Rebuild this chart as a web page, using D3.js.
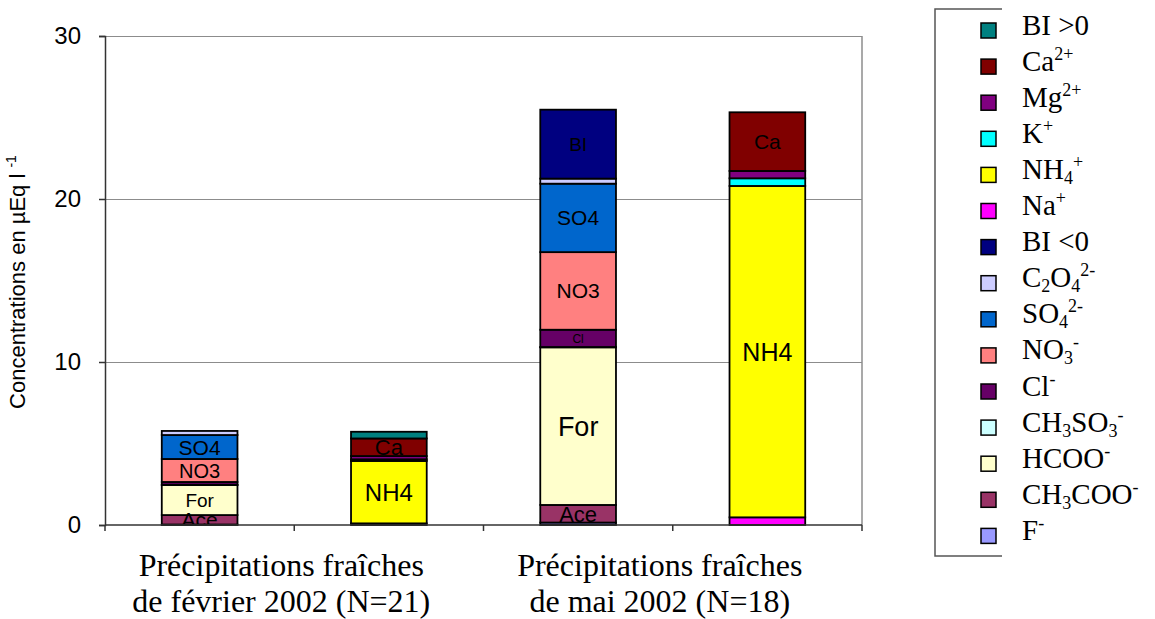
<!DOCTYPE html>
<html>
<head>
<meta charset="utf-8">
<script src="https://cdn.jsdelivr.net/npm/d3@7"></script>
<style>
  body { margin: 0; background: #fff; }
  svg { display: block; }
</style>
</head>
<body>
<svg id="chart" width="1155" height="619"></svg>
<script>
// bars: anions / cations for each campaign
const categories = ['fev-anions', 'fev-cations', 'mai-anions', 'mai-cations'];
const groupLabels = [
  ['Précipitations fraîches', 'de février 2002 (N=21)'],
  ['Précipitations fraîches', 'de mai 2002 (N=18)']
];
const yTicks = [0, 10, 20, 30];

// series values (µEq/l), one value per bar
const F      = [0.03, 0,    0.15, 0];
const CH3COO = [0.58, 0,    1.08, 0];
const HCOO   = [1.84, 0,    9.67, 0];
const CH3SO3 = [0.02, 0,    0.02, 0];
const Cl     = [0.17, 0,    1.06, 0];
const NO3    = [1.41, 0,    4.76, 0];
const SO4    = [1.47, 0,    4.20, 0];
const C2O4   = [0.25, 0,    0.31, 0];
const BIneg  = [0,    0,    4.23, 0];
const Na     = [0,    0.10, 0,    0.47];
const NH4    = [0,    3.83, 0,    20.33];
const K      = [0,    0.10, 0,    0.47];
const Mg     = [0,    0.20, 0,    0.45];
const Ca     = [0,    1.08, 0,    3.60];
const BIpos  = [0,    0.41, 0,    0];

// stacking order, bottom to top
const keys = ['F', 'CH3COO', 'HCOO', 'CH3SO3', 'Cl', 'NO3', 'SO4', 'C2O4', 'BIneg',
              'Na', 'NH4', 'K', 'Mg', 'Ca', 'BIpos'];
const seriesValues = { F, CH3COO, HCOO, CH3SO3, Cl, NO3, SO4, C2O4, BIneg, Na, NH4, K, Mg, Ca, BIpos };

const colors = {
  BIpos: '#008080', Ca: '#800000', Mg: '#800080', K: '#00FFFF', NH4: '#FFFF00',
  Na: '#FF00FF', BIneg: '#000080', C2O4: '#CCCCFF', SO4: '#0066CC', NO3: '#FF8080',
  Cl: '#660066', CH3SO3: '#CCFFFF', HCOO: '#FFFFCC', CH3COO: '#993366', F: '#9999FF'
};

// legend labels as [text, 'n' | 'sub' | 'sup'] parts
const legendLabels = {
  BIpos: [['BI >0', 'n']],
  Ca: [['Ca', 'n'], ['2+', 'sup']],
  Mg: [['Mg', 'n'], ['2+', 'sup']],
  K: [['K', 'n'], ['+', 'sup']],
  NH4: [['NH', 'n'], ['4', 'sub'], ['+', 'sup']],
  Na: [['Na', 'n'], ['+', 'sup']],
  BIneg: [['BI <0', 'n']],
  C2O4: [['C', 'n'], ['2', 'sub'], ['O', 'n'], ['4', 'sub'], ['2-', 'sup']],
  SO4: [['SO', 'n'], ['4', 'sub'], ['2-', 'sup']],
  NO3: [['NO', 'n'], ['3', 'sub'], ['-', 'sup']],
  Cl: [['Cl', 'n'], ['-', 'sup']],
  CH3SO3: [['CH', 'n'], ['3', 'sub'], ['SO', 'n'], ['3', 'sub'], ['-', 'sup']],
  HCOO: [['HCOO', 'n'], ['-', 'sup']],
  CH3COO: [['CH', 'n'], ['3', 'sub'], ['COO', 'n'], ['-', 'sup']],
  F: [['F', 'n'], ['-', 'sup']]
};

// data labels drawn inside segments
const segLabels = [
  { bar: 'fev-anions', key: 'SO4', text: 'SO4' },
  { bar: 'fev-anions', key: 'NO3', text: 'NO3' },
  { bar: 'fev-anions', key: 'HCOO', text: 'For' },
  { bar: 'fev-anions', key: 'CH3COO', text: 'Ace' },
  { bar: 'fev-cations', key: 'Ca', text: 'Ca' },
  { bar: 'fev-cations', key: 'NH4', text: 'NH4' },
  { bar: 'mai-anions', key: 'BIneg', text: 'BI' },
  { bar: 'mai-anions', key: 'SO4', text: 'SO4' },
  { bar: 'mai-anions', key: 'NO3', text: 'NO3' },
  { bar: 'mai-anions', key: 'Cl', text: 'Cl' },
  { bar: 'mai-anions', key: 'HCOO', text: 'For' },
  { bar: 'mai-anions', key: 'CH3COO', text: 'Ace' },
  { bar: 'mai-cations', key: 'Ca', text: 'Ca' },
  { bar: 'mai-cations', key: 'NH4', text: 'NH4' }
];
// font size per label (style only)
const labelSize = {
  'fev-anions/SO4': 21, 'fev-anions/NO3': 20, 'fev-anions/HCOO': 19, 'fev-anions/CH3COO': 21,
  'fev-cations/Ca': 22, 'fev-cations/NH4': 24,
  'mai-anions/BIneg': 19, 'mai-anions/SO4': 21, 'mai-anions/NO3': 21, 'mai-anions/Cl': 12,
  'mai-anions/HCOO': 27, 'mai-anions/CH3COO': 22,
  'mai-cations/Ca': 21, 'mai-cations/NH4': 25
};

const svg = d3.select('#chart');
const plot = { left: 105, right: 862, top: 36, bottom: 525 };

const x = d3.scaleBand()
  .domain(categories)
  .range([plot.left, plot.right])
  .paddingInner(0.6)
  .paddingOuter(0.3);

const y = d3.scaleLinear()
  .domain([0, 30])
  .range([plot.bottom, plot.top]);

// table for d3.stack
const table = categories.map((c, i) => {
  const row = { cat: c };
  keys.forEach(k => { row[k] = seriesValues[k][i]; });
  return row;
});
const stacked = d3.stack().keys(keys)(table);

// gridlines
svg.append('g')
  .attr('transform', `translate(${plot.left},0)`)
  .call(d3.axisLeft(y).tickValues(yTicks.filter(t => t > 0))
    .tickSize(-(plot.right - plot.left)).tickFormat(''))
  .call(g => g.select('.domain').remove())
  .call(g => g.selectAll('line').attr('stroke', '#8c8c8c').attr('stroke-width', 1));

// right border of plot area
svg.append('line')
  .attr('x1', plot.right).attr('x2', plot.right)
  .attr('y1', plot.top).attr('y2', plot.bottom)
  .attr('stroke', '#8c8c8c').attr('stroke-width', 1.5);

svg.append('clipPath').attr('id', 'plotClip')
  .append('rect')
  .attr('x', plot.left).attr('y', plot.top)
  .attr('width', plot.right - plot.left).attr('height', plot.bottom - plot.top);

// bars
const layers = svg.append('g').selectAll('g')
  .data(stacked)
  .join('g')
  .attr('fill', d => colors[d.key]);

layers.selectAll('rect')
  .data(d => d.filter(s => s[1] - s[0] > 0))
  .join('rect')
  .attr('x', d => x(d.data.cat))
  .attr('y', d => y(d[1]))
  .attr('width', x.bandwidth())
  .attr('height', d => y(d[0]) - y(d[1]))
  .attr('stroke', '#000')
  .attr('stroke-width', 1.8);

// segment labels
const labelGroup = svg.append('g').attr('clip-path', 'url(#plotClip)');
segLabels.forEach(l => {
  const layer = stacked.find(s => s.key === l.key);
  const seg = layer[categories.indexOf(l.bar)];
  labelGroup.append('text')
    .attr('x', x(l.bar) + x.bandwidth() / 2)
    .attr('y', y((seg[0] + seg[1]) / 2))
    .attr('dy', '0.36em')
    .attr('text-anchor', 'middle')
    .attr('font-family', 'Liberation Sans, Arial, sans-serif')
    .attr('font-size', labelSize[l.bar + '/' + l.key])
    .attr('fill', '#000')
    .text(l.text);
});

// y axis
svg.append('g')
  .attr('transform', `translate(${plot.left},0)`)
  .call(d3.axisLeft(y).tickValues(yTicks).tickSize(6).tickPadding(18))
  .call(g => g.select('.domain').attr('stroke', '#333').attr('stroke-width', 1.5))
  .call(g => g.selectAll('line').attr('stroke', '#333').attr('stroke-width', 1.5))
  .call(g => g.selectAll('text')
    .attr('font-family', 'Liberation Sans, Arial, sans-serif')
    .attr('font-size', 24)
    .attr('fill', '#000'));

// x axis line and tick marks at band boundaries
const step = x.step();
const boundaries = [plot.left].concat(categories.map(c => x(c) + x.bandwidth() + step * x.paddingInner() / 2));
boundaries[boundaries.length - 1] = plot.right;
svg.append('line')
  .attr('x1', plot.left).attr('x2', plot.right)
  .attr('y1', plot.bottom).attr('y2', plot.bottom)
  .attr('stroke', '#333').attr('stroke-width', 1.5);
svg.append('g').selectAll('line')
  .data(boundaries)
  .join('line')
  .attr('x1', d => d).attr('x2', d => d)
  .attr('y1', plot.bottom).attr('y2', plot.bottom + 6)
  .attr('stroke', '#333').attr('stroke-width', 1.5);

// group labels under each pair of bars
groupLabels.forEach((lines, i) => {
  const a = categories[i * 2], b = categories[i * 2 + 1];
  const cx = (x(a) + x(b) + x.bandwidth()) / 2 - 13;
  const t = svg.append('text')
    .attr('text-anchor', 'middle')
    .attr('font-family', 'Liberation Serif, Times New Roman, serif')
    .attr('font-size', 32)
    .attr('fill', '#000');
  lines.forEach((line, j) => {
    t.append('tspan').attr('x', cx).attr('y', 576 + j * 36).text(line);
  });
});

// y axis title
const yTitle = svg.append('text')
  .attr('transform', 'translate(25,282) rotate(-90)')
  .attr('text-anchor', 'middle')
  .attr('font-family', 'Liberation Sans, Arial, sans-serif')
  .attr('font-size', 22)
  .attr('fill', '#000');
yTitle.append('tspan').text('Concentrations en µEq l ');
yTitle.append('tspan').attr('font-size', 14).attr('dy', -9).text('-1');

// legend
const legendKeys = keys.slice().reverse();
const legend = svg.append('g');
legend.append('path')
  .attr('d', 'M1002,9 H935 V556 H1002')
  .attr('fill', 'none')
  .attr('stroke', '#555')
  .attr('stroke-width', 1.5);

legendKeys.forEach((k, i) => {
  const cy = 30.5 + i * 36.1;
  legend.append('rect')
    .attr('x', 981).attr('y', cy - 7.5)
    .attr('width', 15).attr('height', 15)
    .attr('fill', colors[k])
    .attr('stroke', '#000').attr('stroke-width', 1.5);
  const t = legend.append('text')
    .attr('x', 1022).attr('y', cy + 4)
    .attr('font-family', 'Liberation Serif, Times New Roman, serif')
    .attr('font-size', 29)
    .attr('fill', '#000');
  let shift = 0;
  legendLabels[k].forEach(([txt, kind]) => {
    const target = kind === 'sub' ? 5 : kind === 'sup' ? -11 : 0;
    const ts = t.append('tspan')
      .attr('dy', target - shift)
      .text(txt);
    if (kind !== 'n') ts.attr('font-size', 18);
    shift = target;
  });
});
</script>
</body>
</html>
